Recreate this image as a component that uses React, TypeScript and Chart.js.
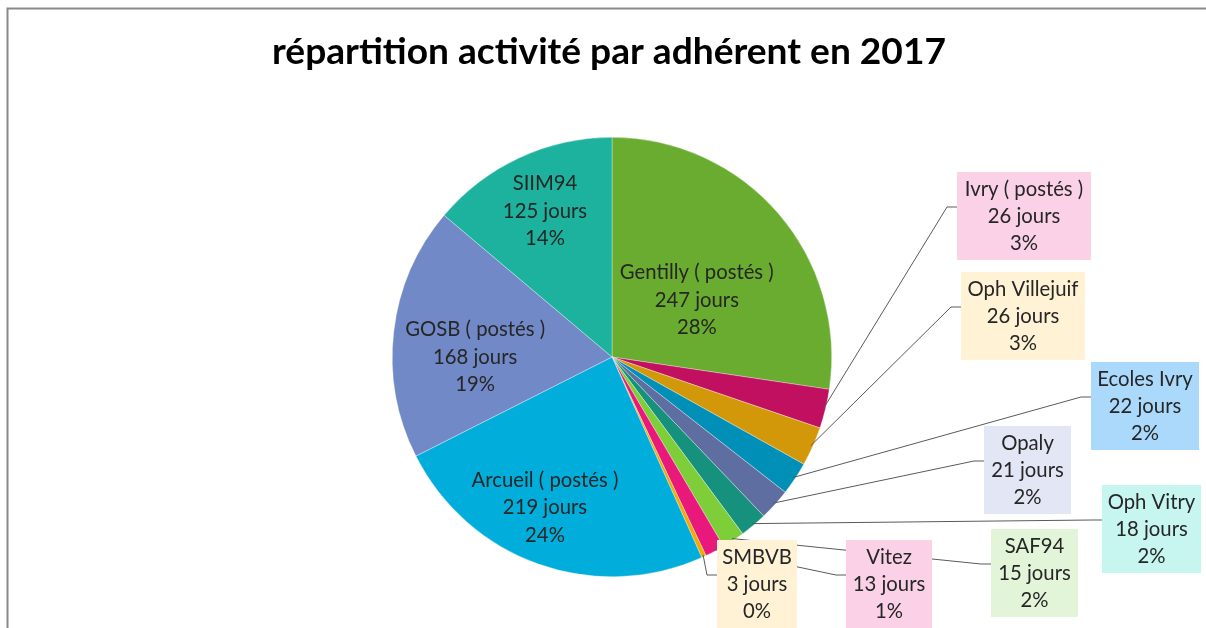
import React, { useEffect, useRef } from "react";
import { Chart, registerables } from "chart.js";

Chart.register(...registerables);

// ---------- data ----------
const categories = [
  "Gentilly ( postés )",
  "Ivry ( postés )",
  "Oph Villejuif",
  "Ecoles Ivry",
  "Opaly",
  "Oph Vitry",
  "SAF94",
  "Vitez",
  "SMBVB",
  "Arcueil ( postés )",
  "GOSB ( postés )",
  "SIIM94",
];
const days = [247, 26, 26, 22, 21, 18, 15, 13, 3, 219, 168, 125];
const percentLabels = ["28%", "3%", "3%", "2%", "2%", "2%", "2%", "1%", "0%", "24%", "19%", "14%"];
const unitLabel = "jours";
const titleText = "répartition activité par adhérent en 2017";

// ---------- styles ----------
const sliceColors = [
  "#6aac2f", "#c1105f", "#d3970a", "#008fb7", "#5e6ea0", "#16917d",
  "#7ece3a", "#e9197b", "#f5aa00", "#00addb", "#7289c7", "#1db29d",
];

// inside labels: offset from pie centre as a fraction of the radius
const insideLayout: Record<number, { fx: number; fy: number }> = {
  0: { fx: 0.386, fy: -0.259 },
  9: { fx: -0.305, fy: 0.686 },
  10: { fx: -0.623, fy: 0.0 },
  11: { fx: -0.305, fy: -0.664 },
};

// outside label boxes (page layout)
const outsideLayout: Record<number, { left: number; top: number; w: number; bg: string; straight?: boolean }> = {
  1: { left: 957, top: 172, w: 134, bg: "#fad1e6" },
  2: { left: 961, top: 272, w: 124, bg: "#fff2d5" },
  3: { left: 1091, top: 362, w: 108, bg: "#aad9fb" },
  4: { left: 984, top: 426, w: 87, bg: "#e3e6f5" },
  5: { left: 1102, top: 485, w: 99, bg: "#c7f5ef" },
  6: { left: 991, top: 529, w: 87, bg: "#e3f5d9" },
  7: { left: 846, top: 540, w: 86, bg: "#fad1e6" },
  8: { left: 717, top: 540, w: 80, bg: "#fff2d5" },
};

const FONT = "Lato, 'Open Sans', sans-serif";
const TEXT_COLOR = "#262626";
const LINE_H = 27.3;
const BOX_H = 88;

function fitSize(ctx: CanvasRenderingContext2D, text: string, target: number, weight: string) {
  ctx.font = `${weight} 20px ${FONT}`;
  const w = ctx.measureText(text).width;
  return (20 * target) / w;
}

const labelsPlugin = {
  id: "excelLabels",
  afterDraw(chart: any) {
    const ctx: CanvasRenderingContext2D = chart.ctx;
    const meta = chart.getDatasetMeta(0);
    ctx.save();

    // frame
    ctx.strokeStyle = "#898989";
    ctx.lineWidth = 2;
    ctx.beginPath();
    ctx.moveTo(1206, 8.5);
    ctx.lineTo(7.5, 8.5);
    ctx.lineTo(7.5, 628);
    ctx.stroke();

    // title
    const tSize = fitSize(ctx, titleText, 674, "bold");
    ctx.font = `bold ${tSize}px ${FONT}`;
    ctx.fillStyle = "#000000";
    ctx.textAlign = "center";
    ctx.textBaseline = "middle";
    ctx.fillText(titleText, 609, 52);

    const fSize = fitSize(ctx, "Oph Villejuif", 111, "normal");
    ctx.font = `normal ${fSize}px ${FONT}`;

    // leader lines
    ctx.strokeStyle = "#5a5a5a";
    ctx.lineWidth = 1;
    meta.data.forEach((arc: any, i: number) => {
      const lay = outsideLayout[i];
      if (!lay) return;
      const mid = (arc.startAngle + arc.endAngle) / 2;
      const r = arc.outerRadius - 2;
      const sx = arc.x + Math.cos(mid) * r;
      const sy = arc.y + Math.sin(mid) * r;
      const ex = lay.left - 10;
      const ey = lay.top + 35;
      ctx.beginPath();
      ctx.moveTo(sx, sy);
      ctx.lineTo(ex, ey);
      ctx.lineTo(lay.left, ey);
      ctx.stroke();
    });

    // boxes + texts
    meta.data.forEach((arc: any, i: number) => {
      const lines = [categories[i], `${days[i]} ${unitLabel}`, percentLabels[i]];
      const lay = outsideLayout[i];
      ctx.textAlign = "center";
      ctx.textBaseline = "middle";
      if (lay) {
        ctx.fillStyle = lay.bg;
        ctx.fillRect(lay.left, lay.top, lay.w, BOX_H);
        ctx.fillStyle = TEXT_COLOR;
        const cx = lay.left + lay.w / 2;
        lines.forEach((t, k) => ctx.fillText(t, cx, lay.top + 17 + k * LINE_H));
      } else {
        const ins = insideLayout[i];
        if (!ins) return;
        const R = arc.outerRadius;
        const cx = arc.x + ins.fx * R;
        const cy = arc.y + ins.fy * R;
        ctx.fillStyle = TEXT_COLOR;
        lines.forEach((t, k) => ctx.fillText(t, cx, cy + (k - 1) * LINE_H));
      }
    });
    ctx.restore();
  },
};

export default function App() {
  const ref = useRef<HTMLCanvasElement | null>(null);
  useEffect(() => {
    document.body.style.margin = "0";
    document.body.style.background = "#ffffff";
    const canvas = ref.current!;
    const chart = new Chart(canvas, {
      type: "pie",
      data: {
        labels: categories,
        datasets: [
          {
            data: days,
            backgroundColor: sliceColors,
            borderColor: "rgba(255,255,255,0.55)",
            borderWidth: 0.6,
          },
        ],
      },
      options: {
        responsive: false,
        animation: false,
        devicePixelRatio: 1,
        layout: { padding: { left: 392, right: 374, top: 137, bottom: 51 } },
        plugins: {
          legend: { display: false },
          tooltip: { enabled: false },
          title: { display: false },
        },
      },
      plugins: [labelsPlugin],
    });
    return () => chart.destroy();
  }, []);
  return (
    <div style={{ width: 1206, height: 628, background: "#fff" }}>
      <canvas ref={ref} width={1206} height={628} style={{ display: "block" }} />
    </div>
  );
}
